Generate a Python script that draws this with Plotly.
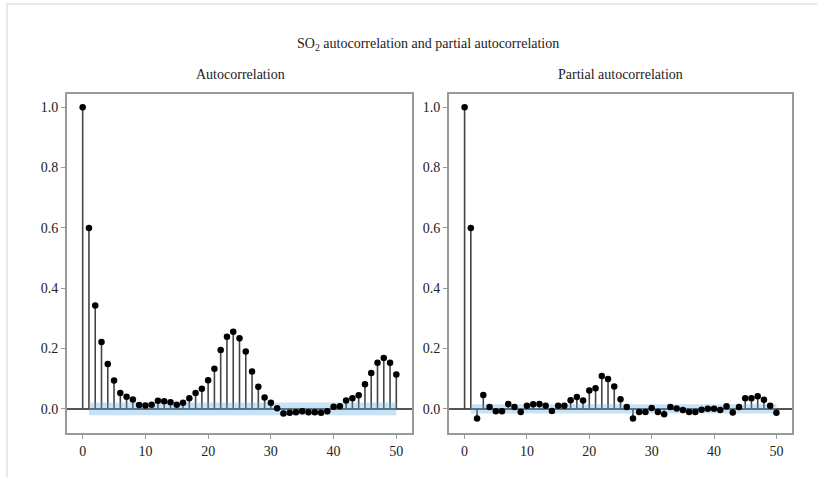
import plotly.graph_objects as go

lags = list(range(51))
acf_vals = [1.0, 0.600, 0.343, 0.222, 0.149, 0.094, 0.053, 0.040, 0.031, 0.013,
            0.011, 0.014, 0.027, 0.025, 0.022, 0.014, 0.020, 0.035, 0.053, 0.067,
            0.095, 0.133, 0.195, 0.239, 0.256, 0.234, 0.190, 0.124, 0.073, 0.038,
            0.020, 0.002, -0.015, -0.013, -0.011, -0.008, -0.011, -0.011, -0.013, -0.008,
            0.007, 0.009, 0.028, 0.035, 0.045, 0.082, 0.119, 0.153, 0.169, 0.153,
            0.114]
pacf_vals = [1.0, 0.600, -0.032, 0.046, 0.006, -0.008, -0.008, 0.016, 0.006, -0.010,
             0.010, 0.015, 0.016, 0.010, -0.007, 0.010, 0.010, 0.029, 0.039, 0.028,
             0.061, 0.068, 0.109, 0.099, 0.074, 0.032, 0.006, -0.032, -0.010, -0.010,
             0.003, -0.010, -0.018, 0.006, 0.001, -0.004, -0.010, -0.010, -0.003, 0.000,
             0.000, -0.004, 0.009, -0.012, 0.006, 0.035, 0.035, 0.042, 0.030, 0.010,
             -0.013]
acf_conf = 0.021
pacf_conf = 0.015

main_title = "SO<sub>2</sub> autocorrelation and partial autocorrelation"
sub_titles = ["Autocorrelation", "Partial autocorrelation"]
x_ticks = [0, 10, 20, 30, 40, 50]
y_ticks = [0.0, 0.2, 0.4, 0.6, 0.8, 1.0]

FONT = "Liberation Serif"
W, H = 817, 477

def px_x(p):
    return p / W

def px_y(p):
    return 1 - p / H

fig = go.Figure()

panels = [
    (acf_vals, acf_conf, "x", "y"),
    (pacf_vals, pacf_conf, "x2", "y2"),
]

for vals, conf, xa, ya in panels:
    sx, sy = [], []
    for k, v in zip(lags, vals):
        sx += [k, k, None]
        sy += [0, v, None]
    fig.add_trace(go.Scatter(x=sx, y=sy, mode="lines",
                             line=dict(color="#444444", width=1.6),
                             showlegend=False, xaxis=xa, yaxis=ya))
    band_x = lags[1:] + lags[1:][::-1]
    band_y = [conf] * 50 + [-conf] * 50
    fig.add_trace(go.Scatter(x=band_x, y=band_y, fill="toself",
                             fillcolor="rgba(100,175,230,0.35)", line=dict(width=0),
                             mode="lines", hoverinfo="skip", showlegend=False,
                             xaxis=xa, yaxis=ya))
    fig.add_trace(go.Scatter(x=lags, y=vals, mode="markers",
                             marker=dict(color="black", size=6.5),
                             showlegend=False, xaxis=xa, yaxis=ya))

axis_common = dict(showgrid=False, showline=True, linecolor="#9a9a9a", linewidth=2,
                   mirror=True, ticks="outside", ticklen=4, tickcolor="#9a9a9a",
                   tickfont=dict(family=FONT, size=14, color="#222222"))

xdoms = [(px_x(67), px_x(412)), (px_x(449), px_x(792))]
ydom = (px_y(433), px_y(94))

fig.update_layout(
    xaxis=dict(domain=xdoms[0], range=[-2.5, 52.5], tickvals=x_ticks, zeroline=False,
               anchor="y", **axis_common),
    yaxis=dict(domain=ydom, range=[-0.08, 1.044], tickvals=y_ticks, tickformat=".1f",
               zeroline=True, zerolinecolor="#555555", zerolinewidth=2,
               anchor="x", **axis_common),
    xaxis2=dict(domain=xdoms[1], range=[-2.5, 52.5], tickvals=x_ticks, zeroline=False,
                anchor="y2", **axis_common),
    yaxis2=dict(domain=ydom, range=[-0.08, 1.044], tickvals=y_ticks, tickformat=".1f",
                zeroline=True, zerolinecolor="#555555", zerolinewidth=2,
                anchor="x2", **axis_common),
    width=W, height=H,
    margin=dict(l=0, r=0, t=0, b=0),
    paper_bgcolor="white", plot_bgcolor="white",
    showlegend=False,
)

fig.add_annotation(text=main_title, x=px_x(428), y=px_y(45), xref="paper", yref="paper",
                   xanchor="center", yanchor="middle",
                   showarrow=False, font=dict(family=FONT, size=14, color="#222222"))
fig.add_annotation(text=sub_titles[0], x=px_x(240), y=px_y(75), xref="paper", yref="paper",
                   xanchor="center", yanchor="middle",
                   showarrow=False, font=dict(family=FONT, size=14, color="#222222"))
fig.add_annotation(text=sub_titles[1], x=px_x(620), y=px_y(75), xref="paper", yref="paper",
                   xanchor="center", yanchor="middle",
                   showarrow=False, font=dict(family=FONT, size=14, color="#222222"))

fig.add_shape(type="rect", xref="paper", yref="paper", x0=px_x(7), x1=1.05,
              y0=-0.05, y1=px_y(4), line=dict(color="#e2e2e2", width=1.5))

fig.write_html("out.html", config={"displayModeBar": False},
               post_script="document.body.style.margin='0';document.body.style.overflow='hidden';")
